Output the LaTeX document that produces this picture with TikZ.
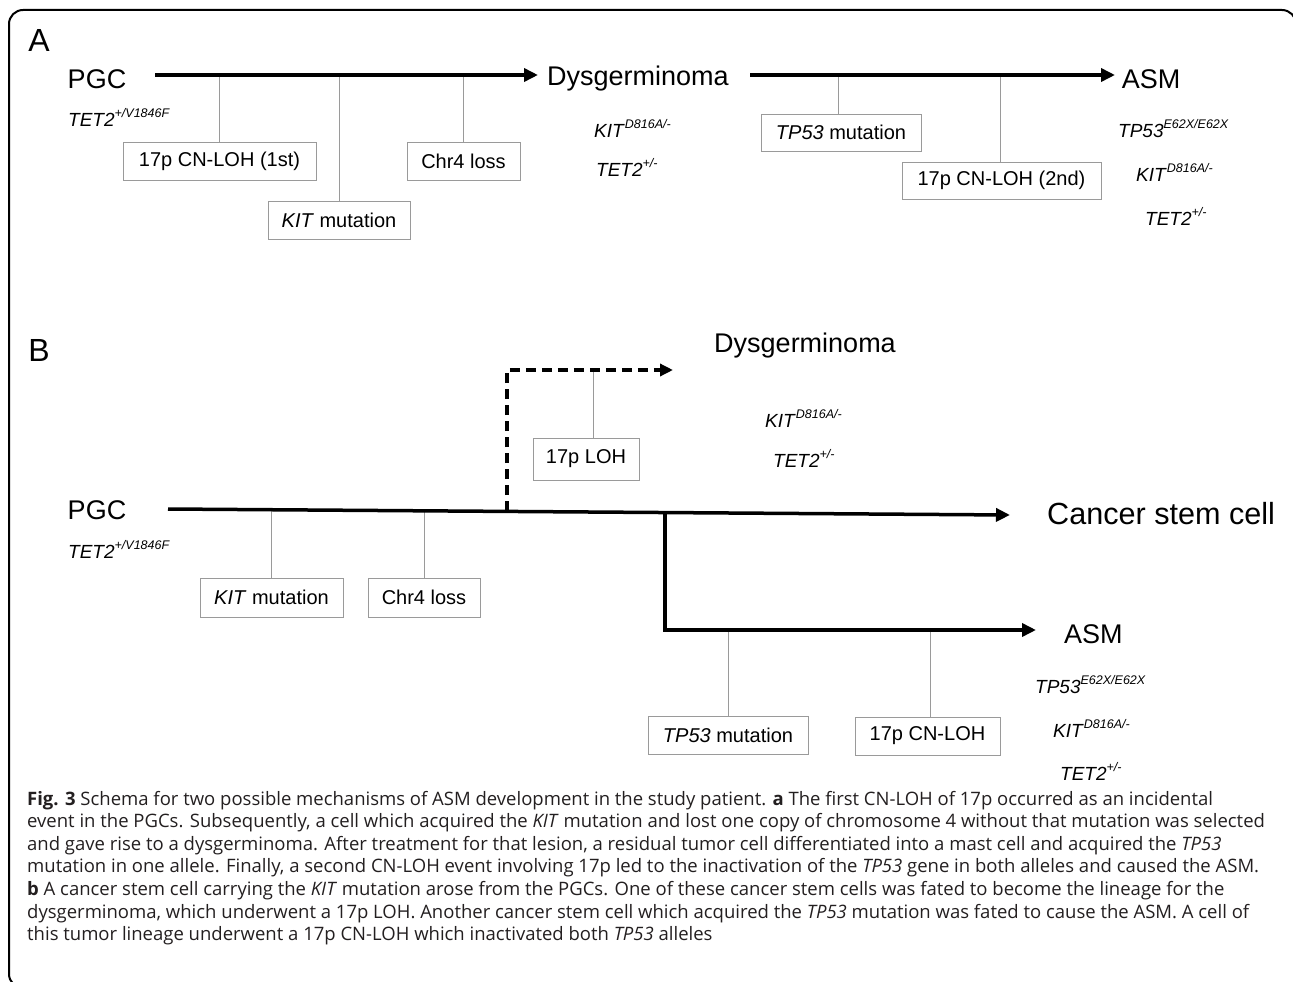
\documentclass[tikz,border=0pt]{standalone}
\usepackage{fontspec}
\setmainfont{Liberation Sans}
\newfontfamily\capfont{Open Sans}
\usetikzlibrary{arrows.meta}
\definecolor{boxgray}{HTML}{9A9A9A}
\definecolor{captxt}{HTML}{231F20}
\newcommand{\gsup}[1]{\raisebox{9pt}{\fontsize{12.5}{14}\selectfont #1}}
\newcommand{\geno}[2]{\textit{#1\/\gsup{#2}}}
\tikzset{
  big/.style={inner sep=0pt, font=\fontsize{27}{30}\selectfont},
  genolbl/.style={inner sep=0pt, anchor=west, font=\fontsize{19}{22}\selectfont},
  evbox/.style={draw=boxgray, line width=1pt, inner sep=0pt, font=\fontsize{20}{24}\selectfont},
  conn/.style={draw=boxgray, line width=1pt},
  mainarrow/.style={line width=4pt, -{Triangle[length=14pt,width=13pt]}},
  dasharrow/.style={line width=3.5pt, dash pattern=on 10pt off 6pt, -{Triangle[length=13pt,width=12pt]}},
  capline/.style={inner sep=0pt, anchor=base west, text=captxt, font=\capfont\fontsize{18.5}{20}\selectfont},
  panel/.style={inner sep=0pt, font=\fontsize{32}{34}\selectfont},
}
\begin{document}
\begin{tikzpicture}[x=1pt,y=-1pt]
\useasboundingbox (0,0) rectangle (1293,982);
% frame
\draw[line width=2pt, rounded corners=14pt] (1296,60) -- (1296,10) -- (9,10) -- (9,988) -- (60,988);

% ---------------- Panel A ----------------
\node[panel] (labA) at (39,40) {A};
\node[big] (pgcA) at (97,79) {PGC};
\node[big] (dysA) at (638,79) {Dysgerminoma};
\node[big] (asmA) at (1151,79) {ASM};
\coordinate (a1s) at (155,75);
\coordinate (a1e) at (538,75);
\coordinate (a2s) at (750,75);
\coordinate (a2e) at (1115,75);

\node[genolbl] (gA1) at (68,117) {\geno{TET2}{+/V1846F}};
\node[genolbl] (gA2) at (594,128) {\geno{KIT}{D816A/-}};
\node[genolbl] (gA3) at (596,167) {\geno{TET2}{+/-}};
\node[genolbl] (gA4) at (1118,129) {\geno{TP53}{E62X/E62X}};
\node[genolbl] (gA5) at (1136,172) {\geno{KIT}{D816A/-}};
\node[genolbl] (gA6) at (1145,216) {\geno{TET2}{+/-}};

\node[evbox, minimum width=193pt, minimum height=38pt] (bA1) at (219.5,161) {17p CN-LOH (1st)};
\node[evbox, minimum width=142pt, minimum height=38pt] (bA2) at (339,220) {\textit{KIT} mutation};
\node[evbox, minimum width=113pt, minimum height=38pt] (bA3) at (463.5,161) {Chr4 loss};
\node[evbox, minimum width=160pt, minimum height=37pt] (bA4) at (841,132.5) {\textit{TP53} mutation};
\node[evbox, minimum width=199pt, minimum height=37pt] (bA5) at (1001.5,180.5) {17p CN-LOH (2nd)};
\draw[conn] (bA1.north) -- (bA1.north |- a1s);
\draw[conn] (bA2.north) -- (bA2.north |- a1s);
\draw[conn] (bA3.north) -- (bA3.north |- a1s);
\draw[conn] ([xshift=-3pt]bA4.north) -- ([xshift=-3pt]bA4.north |- a2s);
\draw[conn] ([xshift=-1.5pt]bA5.north) -- ([xshift=-1.5pt]bA5.north |- a2s);
\draw[mainarrow] (a1s) -- (a1e);
\draw[mainarrow] (a2s) -- (a2e);

% ---------------- Panel B ----------------
\node[panel] (labB) at (39,350) {B};
\node[big] (pgcB) at (97,510) {PGC};
\node[big] (dysB) at (805,346) {Dysgerminoma};
\node[inner sep=0pt, anchor=west, font=\fontsize{30.6}{34}\selectfont] (csc) at (1047,514) {Cancer stem cell};
\node[big, anchor=west] (asmB) at (1064,634) {ASM};

\node[genolbl] (gB1) at (68,549) {\geno{TET2}{+/V1846F}};
\node[genolbl] (gB2) at (765,418) {\geno{KIT}{D816A/-}};
\node[genolbl] (gB3) at (773,458) {\geno{TET2}{+/-}};
\node[genolbl] (gB4) at (1035,685) {\geno{TP53}{E62X/E62X}};
\node[genolbl] (gB5) at (1053,728) {\geno{KIT}{D816A/-}};
\node[genolbl] (gB6) at (1060,771) {\geno{TET2}{+/-}};

\node[evbox, minimum width=106pt, minimum height=42pt] (bB1) at (586,459) {17p LOH};
\node[evbox, minimum width=143pt, minimum height=39pt] (bB2) at (271.5,597.5) {\textit{KIT} mutation};
\node[evbox, minimum width=112pt, minimum height=39pt] (bB3) at (424,597.5) {Chr4 loss};
\node[evbox, minimum width=160pt, minimum height=38pt] (bB4) at (728,735) {\textit{TP53} mutation};
\node[evbox, minimum width=145pt, minimum height=38pt] (bB5) at (927.5,736) {17p CN-LOH};

\coordinate (ls) at (168,509);
\coordinate (le) at (1010,515);
\coordinate (dj) at (507,511.2);
\coordinate (dc) at (507,370);
\coordinate (de) at (673,370);
\coordinate (aj) at (665,512.5);
\coordinate (ac) at (665,630);
\coordinate (ae) at (1036,630);

\draw[conn] (bB2.north) -- (bB2.north |- ls);
\draw[conn] (bB3.north) -- (bB3.north |- ls);
\draw[conn] ([xshift=7pt]bB1.north) -- ([xshift=7pt]bB1.north |- dc);
\draw[conn] (bB4.north) -- (bB4.north |- ac);
\draw[conn] ([xshift=2.5pt]bB5.north) -- ([xshift=2.5pt]bB5.north |- ac);

\draw[line width=3.5pt, -{Triangle[length=14pt,width=13pt]}] (ls) -- (le);
\draw[dasharrow] (dj) -- (dc) -- (de);
\draw[line width=3.5pt, -{Triangle[length=14pt,width=13pt]}] (aj) -- (ac) -- (ae);

% ---------------- Caption ----------------
\node[capline] (c1) at (27,805) {\textbf{Fig. 3} Schema for two possible mechanisms of ASM development in the study patient. \textbf{a} The first CN-LOH of 17p occurred as an incidental};
\node[capline] (c2) at (27,827.6) {event in the PGCs. Subsequently, a cell which acquired the \textit{KIT} mutation and lost one copy of chromosome 4 without that mutation was selected};
\node[capline] (c3) at (27,850.2) {and gave rise to a dysgerminoma. After treatment for that lesion, a residual tumor cell differentiated into a mast cell and acquired the \textit{TP53}};
\node[capline] (c4) at (27,872.8) {mutation in one allele. Finally, a second CN-LOH event involving 17p led to the inactivation of the \textit{TP53} gene in both alleles and caused the ASM.};
\node[capline] (c5) at (27,895.4) {\textbf{b} A cancer stem cell carrying the \textit{KIT} mutation arose from the PGCs. One of these cancer stem cells was fated to become the lineage for the};
\node[capline] (c6) at (27,918) {dysgerminoma, which underwent a 17p LOH. Another cancer stem cell which acquired the \textit{TP53} mutation was fated to cause the ASM. A cell of};
\node[capline] (c7) at (27,940.6) {this tumor lineage underwent a 17p CN-LOH which inactivated both \textit{TP53} alleles};
\end{tikzpicture}
\end{document}
